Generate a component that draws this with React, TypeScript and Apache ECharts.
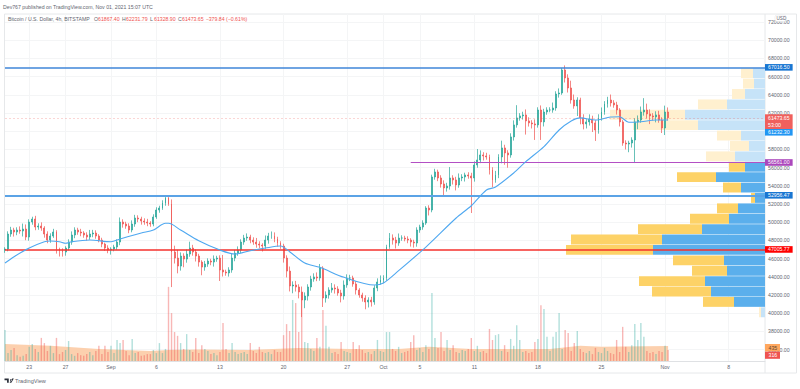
import React, { useEffect, useRef } from "react";
import * as echarts from "echarts";

const titleText = "Dev767 published on TradingView.com, Nov 01, 2021 15:07 UTC";
const symbolText = "Bitcoin / U.S. Dollar, 4h, BITSTAMP";
const ohlcKeys = ["O", "H", "L", "C"];
const ohlcValues = ["61867.40", "62231.79", "61328.90", "61473.65"];
const changeText = "\u2212379.84 (\u22120.61%)";

const tickDates = ["08-23", "08-27", "09-01", "09-06", "09-13", "09-20", "09-27", "10-01", "10-05", "10-11", "10-18", "10-25", "11-01", "11-08"];
const tickLabels = ["23", "27", "Sep", "6", "13", "20", "27", "Oct", "5", "11", "18", "25", "Nov", "8"];
const hiddenPriceLabels = [34000, 60000, 73000];

const firstOpen = 46940;
const closes = [
  47050, 48700, 49140, 48920, 49140, 49030, 49250, 48370, 50020, 50350, 49470, 49580, 49360, 48700, 48040, 48480, 48920, 47050, 46830, 46720,
  47160, 47820, 48590, 49140, 48920, 48810, 48590, 48370, 48700, 48810, 48480, 48040, 47600, 47160, 46940, 47050, 47270, 47820, 50020, 49800,
  49580, 49140, 49800, 50460, 50350, 50130, 50020, 49910, 49800, 50570, 51340, 51560, 52110, 52660, 52000, 46720, 46060, 45180, 46280, 45950,
  46500, 47160, 46720, 46280, 45620, 45070, 45400, 45730, 45620, 45950, 46060, 44750, 44530, 44420, 44750, 46060, 46610, 46940, 47820, 48260,
  48370, 48040, 47820, 47600, 47490, 47380, 48040, 48480, 48480, 48150, 47710, 47380, 46060, 44630, 42990, 43100, 42880, 42330, 41450, 41890,
  42880, 43760, 43980, 43870, 44960, 41670, 42000, 42550, 42770, 42660, 42220, 41890, 43100, 43870, 43870, 43210, 42550, 42000, 41670, 41230,
  41450, 41230, 42770, 43430, 43650, 43870, 47270, 48260, 48040, 47710, 48260, 48260, 48150, 48040, 47820, 47710, 49140, 49470, 49910, 51560,
  51340, 54970, 55520, 54860, 54200, 53760, 53980, 54860, 54640, 54090, 54860, 54970, 55190, 55080, 54860, 56290, 56840, 57390, 57280, 57170,
  55740, 54640, 55190, 57170, 58160, 57610, 57390, 59370, 60690, 61460, 61680, 61790, 61130, 60910, 60800, 60690, 62330, 61020, 62110, 62330,
  62330, 62550, 64090, 64200, 66730, 65850, 64750, 63430, 62770, 63430, 61460, 60800, 61020, 61350, 60910, 60130, 61460, 62110, 63000, 63430,
  63110, 62880, 62330, 61020, 58700, 58590, 58700, 59030, 61020, 61230, 62110, 62330, 61900, 61680, 61570, 61790, 61230, 60350, 62110, 61473.65,
];
const wickUp = [
  200, 300, 350, 250, 300, 400, 600, 500, 300, 250, 350, 300, 400, 200, 300, 300, 350, 200, 150, 300,
  200, 300, 400, 300, 250, 350, 200, 300, 450, 350, 300, 200, 250, 150, 300, 200, 250, 300, 500, 300,
  250, 300, 400, 350, 300, 250, 300, 350, 200, 300, 300, 250, 300, 120, 100, 500, 700, 900, 400, 300,
  500, 700, 350, 300, 250, 200, 350, 300, 250, 400, 250, 300, 1650, 250, 300, 500, 350, 400, 300, 350,
  400, 250, 300, 450, 300, 200, 500, 350, 500, 400, 250, 200, 250, 300, 500, 400, 450, 300, 600, 400,
  300, 350, 400, 500, 450, 200, 400, 300, 550, 400, 300, 350, 500, 400, 350, 250, 300, 200, 250, 300,
  300, 350, 300, 400, 500, 300, 250, 550, 400, 350, 500, 300, 250, 300, 200, 250, 300, 250, 300, 200,
  300, 250, 350, 250, 300, 400, 350, 1200, 300, 350, 500, 300, 250, 300, 350, 400, 1200, 500, 300, 350,
  250, 300, 450, 300, 800, 350, 300, 400, 500, 1400, 300, 350, 600, 400, 300, 500, 300, 500, 350, 300,
  300, 600, 300, 500, 220, 500, 400, 800, 600, 300, 250, 400, 300, 500, 350, 300, 400, 500, 300, 350,
  600, 300, 350, 200, 200, 300, 250, 300, 400, 500, 600, 1300, 700, 500, 300, 400, 450, 300, 700, 500,
];
const wickDown = [
  300, 250, 300, 500, 350, 300, 600, 350, 400, 300, 350, 300, 300, 400, 350, 300, 200, 500, 600, 500,
  400, 250, 300, 350, 300, 350, 300, 400, 300, 350, 300, 250, 350, 300, 350, 500, 250, 300, 350, 400,
  300, 350, 250, 300, 350, 400, 300, 350, 300, 250, 200, 300, 200, 300, 200, 3850, 600, 800, 500, 900,
  400, 300, 400, 600, 500, 900, 400, 300, 350, 500, 300, 1210, 500, 300, 400, 300, 350, 300, 350, 300,
  300, 350, 300, 400, 350, 600, 300, 400, 300, 350, 400, 300, 500, 700, 600, 800, 500, 700, 1870, 900,
  500, 400, 300, 350, 300, 990, 500, 400, 300, 500, 300, 700, 400, 300, 350, 300, 500, 300, 400, 800,
  600, 500, 300, 350, 300, 350, 300, 200, 500, 600, 300, 300, 250, 350, 500, 500, 400, 300, 300, 200,
  600, 250, 300, 350, 400, 800, 400, 400, 500, 600, 300, 350, 500, 300, 3850, 400, 300, 350, 500, 300,
  500, 800, 300, 350, 700, 1300, 1400, 300, 400, 300, 300, 400, 1500, 400, 500, 1650, 300, 1980, 500, 300,
  250, 300, 300, 400, 200, 500, 500, 400, 300, 1100, 700, 600, 500, 400, 1000, 1200, 400, 300, 300, 400,
  400, 300, 500, 500, 300, 600, 900, 500, 2530, 800, 300, 400, 500, 900, 400, 600, 300, 550, 770, 300,
];
const volumes = [
  900, 230, 320, 380, 170, 120, 150, 200, 410, 490, 350, 260, 670, 520, 290, 440, 230, 670, 200, 260,
  320, 580, 200, 150, 230, 170, 150, 200, 260, 170, 290, 440, 200, 440, 260, 440, 230, 610, 520, 610,
  290, 170, 640, 230, 260, 150, 170, 200, 200, 320, 230, 520, 230, 350, 2150, 1390, 840, 730, 520, 350,
  780, 320, 260, 670, 230, 460, 350, 290, 200, 230, 170, 260, 1100, 350, 230, 520, 260, 200, 230, 260,
  200, 520, 290, 230, 410, 260, 230, 260, 200, 320, 260, 260, 750, 1070, 870, 1770, 1680, 840, 1970, 550,
  520, 350, 290, 670, 410, 1480, 1020, 410, 230, 260, 200, 550, 290, 260, 230, 550, 350, 460, 320, 230,
  260, 200, 290, 610, 290, 260, 840, 840, 350, 290, 410, 230, 260, 290, 550, 750, 320, 380, 260, 460,
  350, 1970, 670, 380, 840, 290, 610, 320, 460, 260, 230, 320, 290, 350, 670, 290, 440, 260, 290, 230,
  930, 610, 750, 780, 290, 460, 260, 640, 440, 1040, 610, 260, 290, 230, 260, 550, 640, 1620, 1510, 700,
  290, 700, 840, 1390, 350, 900, 810, 290, 520, 870, 350, 260, 230, 290, 200, 380, 260, 230, 380, 290,
  230, 200, 610, 260, 990, 410, 260, 460, 1070, 610, 1100, 700, 290, 230, 260, 200, 290, 260, 440, 316,
];
const emaIndex = [0, 3, 8, 13, 15, 18, 20, 22, 28, 35, 38, 45, 49, 53, 54, 58, 64, 71, 76, 81, 86, 91, 94, 99, 104, 112, 122, 125, 130, 139, 149, 154, 159, 162, 168, 172, 178, 183, 187, 190, 195, 200, 203, 206, 210, 215, 219];
const emaValues = [45510, 46210, 47160, 47850, 47930, 47850, 47680, 47850, 48040, 47850, 48150, 48810, 49140, 49880, 49880, 49140, 47965, 46940, 46500, 46870, 47160, 47380, 46760, 45510, 45040, 43940, 43100, 43320, 44670, 47270, 50460, 51810, 53540, 53870, 55410, 56650, 58300, 60130, 61120, 61460, 61230, 61560, 61590, 60980, 61040, 61230, 61232.3];
const volMaIndex = [0, 15, 31, 48, 54, 64, 81, 97, 114, 130, 140, 154, 180, 190, 197, 219];
const volMaValues = [490, 440, 350, 290, 320, 335, 320, 380, 350, 350, 410, 350, 350, 440, 410, 435];

const profileUp = [12, 11, 20, 38, 80, 67, 24, 16, 30, 20, 49, 24, 10, 27, 36, 63, 103, 112, 41, 38, 60, 54, 31, 4];
const profileDown = [12, 11, 13, 29, 75, 65, 24, 19, 29, 16, 39, 18, 4, 21, 39, 64, 91, 87, 51, 35, 66, 59, 31, 2];
const profileInValueArea = [false, false, false, false, false, false, false, false, false, true, true, true, true, true, true, true, true, true, true, true, true, true, true, false];

const levelTop = 67016.5;
const levelMid = 52956.47;
const levelLow = 47005.77;
const levelPurple = 56561.0;
const lastPrice = 61473.65;
const lastCountdown = "53:00";
const emaLast = 61232.3;
const volMaBadge = "435";
const volBadge = "316";

const FONT = '"Liberation Sans", Arial, sans-serif';
const UP = "#26a69a";
const DOWN = "#ef5350";
const TICK = "#5f6670";
const GRID_LINE = "#f4f5f6";

const categories = Array.from({ length: 252 }, (_, i) => {
  const d = new Date(Date.UTC(2021, 7, 20, 8 + 8 * i));
  const mm = String(d.getUTCMonth() + 1).padStart(2, "0");
  const dd = String(d.getUTCDate()).padStart(2, "0");
  const hh = String(d.getUTCHours()).padStart(2, "0");
  return `${mm}-${dd} ${hh}:00`;
});
const tickOf = (cat: string) => (cat.endsWith("00:00") ? tickDates.indexOf(cat.slice(0, 5)) : -1);

const opens = closes.map((_, i) => (i === 0 ? firstOpen : closes[i - 1]));
const candles = closes.map((c, i) => [
  opens[i],
  c,
  Math.min(opens[i], c) - wickDown[i],
  Math.max(opens[i], c) + wickUp[i],
]);

const priceLabel = (bg: string, text: string, offsetY = 0, lineHeight = 5.6) => ({
  show: true,
  position: "end",
  distance: 0,
  offset: [0, offsetY],
  formatter: text,
  backgroundColor: bg,
  color: "#ffffff",
  fontSize: 5.2,
  fontFamily: FONT,
  padding: [0.5, 3, 0.5, 3],
  lineHeight,
});
const fmt = (v: number) => v.toFixed(2);

export default function App() {
  const ref = useRef<HTMLDivElement>(null);
  useEffect(() => {
    document.body.style.margin = "0";
    echarts.graphic.registerShape(
      "tvLogo",
      echarts.graphic.extendPath("M0 0H5V5H3V2H0Z M7.5 1a1 1 0 1 0 .01 0Z M6 5L9 0H11L8 5Z", {})
    );
    const chart = echarts.init(ref.current!, undefined, { renderer: "svg" });

    const text = (t: string, x: number, y: number, fill: string, size = 5.2) => ({
      type: "text",
      x,
      y,
      z: 50,
      silent: true,
      style: { text: t, fill, fontSize: size, fontFamily: FONT, textVerticalAlign: "middle" },
    });
    const ohlcX = [94, 122, 150, 178];
    const graphicEls: any[] = [
      { type: "rect", shape: { x: 4.5, y: 14, width: 792, height: 359 }, z: 0, silent: true, style: { fill: "none", stroke: "#e6e8ea", lineWidth: 1 } },
      { type: "line", shape: { x1: 765, y1: 14, x2: 765, y2: 373 }, z: 0, silent: true, style: { stroke: "#e6e8ea", lineWidth: 1 } },
      text(titleText, 3, 6.5, "#5f6670", 5.2),
      text(symbolText, 8, 19, "#5f6670", 5.2),
      text(changeText, 205.7, 19, DOWN, 5.2),
      { type: "rect", shape: { x: 775, y: 15, width: 11, height: 6.5, r: 2 }, z: 49, silent: true, style: { fill: "#ffffff", stroke: "#e0e3e6", lineWidth: 0.5 } },
      text("USD", 776.5, 18.3, "#5f6670", 4.6),
      { type: "rect", shape: { x: 765, y: 344, width: 15, height: 7.4 }, z: 49, silent: true, style: { fill: "#ffa75e" } },
      text(volMaBadge, 768.5, 347.8, "#5a4630", 5.2),
      { type: "rect", shape: { x: 765, y: 351.6, width: 15, height: 7.2 }, z: 49, silent: true, style: { fill: DOWN } },
      text(volBadge, 768.5, 355.3, "#ffffff", 5.2),
      { type: "tvLogo", x: 4.5, y: 378.5, scaleX: 0.85, scaleY: 0.85, z: 50, silent: true, style: { fill: "#2a2e39" } },
      text("TradingView", 15, 381, "#5f6670", 5.6),
    ];
    ohlcKeys.forEach((k, i) => {
      graphicEls.push(text(k, ohlcX[i], 19, "#5f6670"));
      graphicEls.push(text(ohlcValues[i], ohlcX[i] + 4, 19, DOWN));
    });

    const hLine = (value: number, color: string, width: number, label: any, extra: any = {}) => ({
      yAxis: value,
      lineStyle: { color, width, type: "solid", opacity: 1, ...extra },
      label,
    });

    chart.setOption({
      animation: false,
      backgroundColor: "#ffffff",
      graphic: { elements: graphicEls },
      grid: [
        { left: 5, width: 760, top: 12.9, height: 354.9 },
        { left: 5, width: 760, top: 14, height: 347 },
        { left: 5, width: 760, top: 68, height: 249.5 },
      ],
      xAxis: [
        { gridIndex: 0, type: "category", data: categories, boundaryGap: false, show: false },
        {
          gridIndex: 1,
          type: "category",
          data: categories,
          boundaryGap: false,
          axisLine: { lineStyle: { color: "#dfe1e4", width: 1 } },
          axisTick: { show: false },
          axisLabel: {
            interval: (_: number, v: string) => tickOf(v) >= 0,
            formatter: (v: string) => (tickOf(v) >= 0 ? tickLabels[tickOf(v)] : ""),
            color: TICK,
            fontSize: 5.2,
            fontFamily: FONT,
            margin: 3,
          },
          splitLine: {
            show: true,
            interval: (_: number, v: string) => tickOf(v) >= 0,
            lineStyle: { color: GRID_LINE, width: 1 },
          },
        },
        { gridIndex: 2, type: "value", min: 0, max: 760, inverse: true, show: false },
      ],
      yAxis: [
        {
          gridIndex: 0,
          type: "value",
          position: "right",
          min: 34000,
          max: 73000,
          interval: 2000,
          axisLine: { show: false },
          axisTick: { show: false },
          axisLabel: {
            formatter: (v: number) => (hiddenPriceLabels.includes(v) ? "" : fmt(v)),
            color: TICK,
            fontSize: 5.2,
            fontFamily: FONT,
            margin: 3,
          },
          splitLine: { show: true, showMinLine: false, showMaxLine: false, lineStyle: { color: GRID_LINE, width: 1 } },
        },
        { gridIndex: 1, type: "value", min: 0, max: 10063, show: false, splitLine: { show: false } },
        { gridIndex: 2, type: "category", inverse: true, data: profileUp.map((_, i) => i), show: false },
      ],
      series: [
        {
          type: "bar",
          name: "Profile up",
          xAxisIndex: 2,
          yAxisIndex: 2,
          stack: "profile",
          barCategoryGap: "5%",
          z: 1,
          silent: true,
          data: profileUp.map((v, i) => ({ value: v, itemStyle: { color: profileInValueArea[i] ? "#5bafec" : "#c6e3f8" } })),
        },
        {
          type: "bar",
          name: "Profile down",
          xAxisIndex: 2,
          yAxisIndex: 2,
          stack: "profile",
          barCategoryGap: "5%",
          z: 1,
          silent: true,
          data: profileDown.map((v, i) => ({ value: v, itemStyle: { color: profileInValueArea[i] ? "#fdd267" : "#fff0cf" } })),
        },
        {
          type: "line",
          name: "Volume MA",
          xAxisIndex: 1,
          yAxisIndex: 1,
          showSymbol: false,
          z: 2,
          silent: true,
          lineStyle: { width: 0 },
          areaStyle: { color: "#fccdaa", opacity: 0.95 },
          data: volMaIndex.map((x, i) => [x, volMaValues[i]]),
        },
        {
          type: "bar",
          name: "Volume",
          xAxisIndex: 1,
          yAxisIndex: 1,
          barWidth: 1.4,
          z: 3,
          silent: true,
          data: volumes.map((v, i) => ({
            value: v,
            itemStyle: { color: closes[i] >= opens[i] ? "rgba(38,166,154,0.36)" : "rgba(239,83,80,0.42)" },
          })),
        },
        {
          type: "candlestick",
          name: "BTCUSD",
          xAxisIndex: 0,
          yAxisIndex: 0,
          barWidth: 1.4,
          z: 4,
          silent: true,
          itemStyle: { color: UP, color0: DOWN, borderColor: UP, borderColor0: DOWN, borderWidth: 0.7 },
          data: candles,
          markLine: {
            silent: true,
            symbol: "none",
            animation: false,
            precision: 2,
            data: [
              hLine(lastPrice, "rgba(239,83,80,0.3)", 0.8, priceLabel("#f0605d", `${fmt(lastPrice)}\n${lastCountdown}`, 4, 7), { type: [2, 2] }),
              hLine(emaLast, "rgba(0,0,0,0)", 0, priceLabel("#2196f3", fmt(emaLast), 12.3)),
              hLine(levelTop, "#3f86d8", 1.6, priceLabel("#1976d2", fmt(levelTop))),
              hLine(levelMid, "#5ba3e6", 1.8, priceLabel("#1976d2", fmt(levelMid))),
              hLine(levelLow, "#f4302c", 1.6, priceLabel("#ff0000", fmt(levelLow))),
              [
                {
                  coord: [134, levelPurple],
                  lineStyle: { color: "#b34fc4", width: 1.2, type: "solid" },
                  label: priceLabel("#ab47bc", fmt(levelPurple)),
                },
                { coord: [251, levelPurple] },
              ],
            ],
          },
        },
        {
          type: "line",
          name: "EMA",
          xAxisIndex: 0,
          yAxisIndex: 0,
          smooth: 0.3,
          showSymbol: false,
          z: 5,
          silent: true,
          lineStyle: { color: "#4fa8f0", width: 1.1 },
          data: emaIndex.map((x, i) => [x, emaValues[i]]),
        },
      ],
    });
    return () => chart.dispose();
  }, []);
  return <div ref={ref} style={{ width: 800, height: 389 }} />;
}
